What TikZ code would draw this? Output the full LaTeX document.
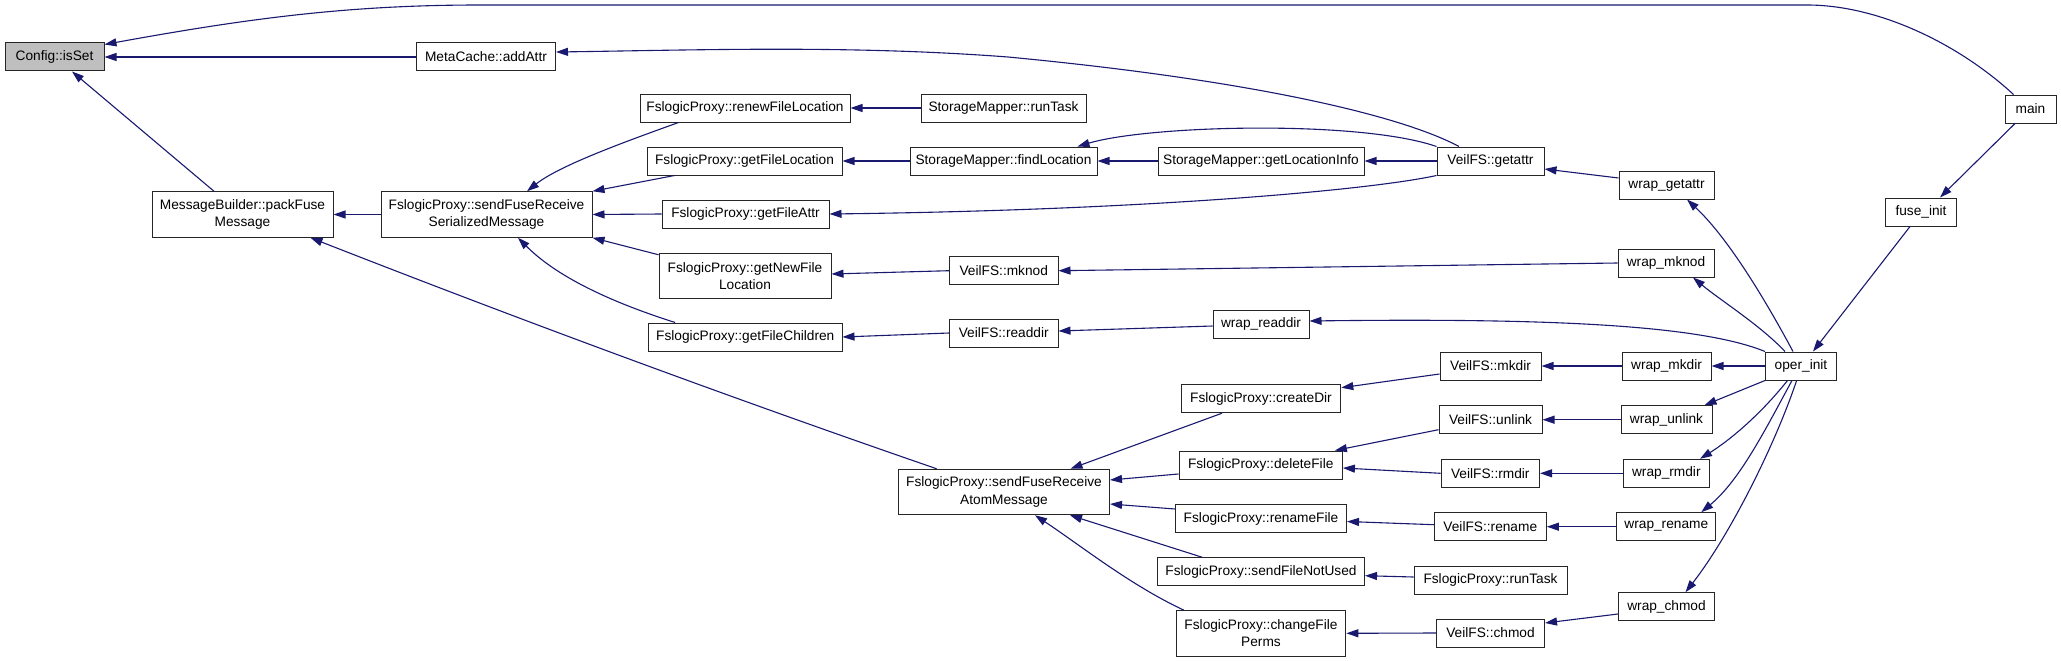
\documentclass[tikz,border=0pt]{standalone}
\usepackage{fontspec}
\setmainfont{Liberation Sans}
\usetikzlibrary{arrows.meta,calc}
\definecolor{edgec}{HTML}{191970}
\definecolor{hl}{HTML}{BFBFBF}
\definecolor{bord}{HTML}{262626}
\begin{document}
\begin{tikzpicture}[x=1pt,y=-1pt,
  box/.style={draw=bord,line width=1pt,fill=white,inner sep=0pt,minimum height=28pt,font=\fontsize{13.7}{17.5}\selectfont,align=center},
  two/.style={minimum height=45.5pt},
  call/.style={draw=edgec,line width=1.1pt,-{Triangle[length=12pt,width=8pt]}}]
\fill[white] (0,0) rectangle (2061,661);
\useasboundingbox (0,0) rectangle (2061,661);

\node[box,fill=hl,minimum width=99pt] (isset) at (54.5,57) {Config::isSet};
\node[box,minimum width=139pt] (addattr) at (486,57) {MetaCache::addAttr};
\node[box,two,minimum width=181pt] (packfuse) at (242.5,214.5) {MessageBuilder::packFuse\\Message};
\node[box,two,minimum width=211pt] (serial) at (486.5,214.5) {FslogicProxy::sendFuseReceive\\SerializedMessage};
\node[box,minimum width=210pt] (renew) at (745,108) {FslogicProxy::renewFileLocation};
\node[box,minimum width=165pt] (smrun) at (1003.5,108) {StorageMapper::runTask};
\node[box,minimum width=195pt] (getloc) at (744.5,161) {FslogicProxy::getFileLocation};
\node[box,minimum width=187pt] (findloc) at (1003.5,161) {StorageMapper::findLocation};
\node[box,minimum width=206pt] (locinfo) at (1261,161) {StorageMapper::getLocationInfo};
\node[box,minimum width=107pt] (getattr) at (1490.5,161) {VeilFS::getattr};
\node[box,minimum width=95pt] (wgetattr) at (1666.5,185) {wrap\_getattr};
\node[box,minimum width=51pt] (main) at (2030.5,109) {main};
\node[box,minimum width=70.5pt] (fuseinit) at (1921,212) {fuse\_init};
\node[box,minimum width=71pt] (operinit) at (1801,366) {oper\_init};
\node[box,minimum width=167pt] (getattrfp) at (745.5,214) {FslogicProxy::getFileAttr};
\node[box,two,minimum width=172pt] (newfile) at (745,276) {FslogicProxy::getNewFile\\Location};
\node[box,minimum width=108.5pt] (mknod) at (1003.75,270.7) {VeilFS::mknod};
\node[box,minimum width=96pt] (wmknod) at (1666,263) {wrap\_mknod};
\node[box,minimum width=193.4pt] (children) at (745.3,337) {FslogicProxy::getFileChildren};
\node[box,minimum width=108.5pt] (readdir) at (1003.75,333) {VeilFS::readdir};
\node[box,minimum width=96pt] (wreaddir) at (1261,324) {wrap\_readdir};
\node[box,two,minimum width=211pt] (atom) at (1004,492) {FslogicProxy::sendFuseReceive\\AtomMessage};
\node[box,minimum width=159.6pt] (createdir) at (1261,398.7) {FslogicProxy::createDir};
\node[box,minimum width=163.4pt] (deletefile) at (1260.7,465) {FslogicProxy::deleteFile};
\node[box,minimum width=171pt] (renamefile) at (1261,518.5) {FslogicProxy::renameFile};
\node[box,minimum width=207pt] (notused) at (1261,571.7) {FslogicProxy::sendFileNotUsed};
\node[box,two,minimum width=169.7pt] (perms) at (1261,633.3) {FslogicProxy::changeFile\\Perms};
\node[box,minimum width=101pt] (mkdir) at (1490.5,366) {VeilFS::mkdir};
\node[box,minimum width=89pt] (wmkdir) at (1666.5,366) {wrap\_mkdir};
\node[box,minimum width=103pt] (unlink) at (1490.5,419.7) {VeilFS::unlink};
\node[box,minimum width=91pt] (wunlink) at (1666.5,419.7) {wrap\_unlink};
\node[box,minimum width=98.5pt] (rmdir) at (1490.3,473.3) {VeilFS::rmdir};
\node[box,minimum width=86.5pt] (wrmdir) at (1666.3,473.3) {wrap\_rmdir};
\node[box,minimum width=112pt] (rename) at (1490.3,526.7) {VeilFS::rename};
\node[box,minimum width=99.3pt] (wrename) at (1666.3,526.7) {wrap\_rename};
\node[box,minimum width=153pt] (fprun) at (1490.5,580) {FslogicProxy::runTask};
\node[box,minimum width=96pt] (wchmod) at (1666.5,606.7) {wrap\_chmod};
\node[box,minimum width=108pt] (chmod) at (1490.5,633) {VeilFS::chmod};

\draw[call] ($(main.north)+(-17,0)$) .. controls (1960,45) and (1880,5) .. (1807,5) -- (480,5) .. controls (350,5) and (250,18) .. ($(isset.north east)+(0,2)$);
\draw[call] (addattr.west) -- (isset.east);
\draw[call] ($(packfuse.north)+(-28.5,0)$) -- ($(isset.south)+(17.5,0)$);
\draw[call] (serial.west) -- (packfuse.east);
\draw[call] ($(atom.north)+(-67.4,0)$) .. controls (727.7,396.7) and (518.8,319.3) .. ($(packfuse.south east)+(-23,0)$);
\draw[call] ($(getattr.north)+(-31.5,0)$) .. controls (1400,115) and (1250,80) .. (1008,57) .. controls (850,45) and (700,50) .. ($(addattr.east)+(0,-5)$);
\draw[call] ($(renew.south west)+(39,0)$) .. controls (630,140) and (560,165) .. ($(serial.north)+(40.5,0)$);
\draw[call] ($(getloc.south west)+(28,0)$) -- (serial.north east);
\draw[call] (getattrfp.west) -- (serial.east);
\draw[call] ($(newfile.north west)+(0,2)$) -- (serial.south east);
\draw[call] ($(children.north west)+(27,0)$) .. controls (620,305) and (560,280) .. ($(serial.south)+(31.5,0)$);
\draw[call] (smrun.west) -- (renew.east);
\draw[call] (findloc.west) -- (getloc.east);
\draw[call] (locinfo.west) -- (findloc.east);
\draw[call] (getattr.west) -- (locinfo.east);
\draw[call] (getattr.north west) .. controls (1360,120) and (1150,125) .. ($(findloc.north east)+(-20,0)$);
\draw[call] (getattr.south west) .. controls (1370,190) and (1150,210) .. (getattrfp.east);
\draw[call] ($(wgetattr.west)+(0,-7)$) -- ($(getattr.east)+(0,8)$);
\draw[call] ($(operinit.north)+(-8,0)$) .. controls (1760,290) and (1725,235) .. ($(wgetattr.south)+(20.5,0)$);
\draw[call] (mknod.west) -- ($(newfile.east)+(0,-2)$);
\draw[call] (wmknod.west) -- (mknod.east);
\draw[call] ($(operinit.north)+(-16,0)$) .. controls (1760,325) and (1720,300) .. ($(wmknod.south)+(27,0)$);
\draw[call] (readdir.west) -- (children.east);
\draw[call] ($(wreaddir.west)+(0,2)$) -- ($(readdir.east)+(0,-2)$);
\draw[call] (operinit.north west) .. controls (1700,325) and (1550,318) .. ($(wreaddir.east)+(0,-3)$);
\draw[call] ($(mkdir.west)+(0,8)$) -- ($(createdir.east)+(0,-11)$);
\draw[call] (wmkdir.west) -- (mkdir.east);
\draw[call] (operinit.west) -- (wmkdir.east);
\draw[call] ($(createdir.south)+(-39,0)$) -- ($(atom.north)+(66.5,0)$);
\draw[call] ($(deletefile.west)+(0,9)$) -- ($(atom.east)+(0,-12)$);
\draw[call] ($(renamefile.west)+(0,-9.5)$) -- ($(atom.east)+(0,12)$);
\draw[call] ($(notused.north)+(-59,0)$) -- ($(atom.south)+(66,0)$);
\draw[call] ($(perms.north west)+(8,0)$) .. controls (1130,585) and (1080,545) .. ($(atom.south)+(31,0)$);
\draw[call] ($(unlink.west)+(0,10)$) -- ($(deletefile.north east)+(-8,0)$);
\draw[call] (rmdir.west) -- ($(deletefile.east)+(0,3)$);
\draw[call] (wunlink.west) -- (unlink.east);
\draw[call] (operinit.south west) -- ($(wunlink.north east)+(-8,0)$);
\draw[call] (wrmdir.west) -- (rmdir.east);
\draw[call] ($(operinit.south)+(-13.5,0)$) .. controls (1760,415) and (1730,440) .. ($(wrmdir.north east)+(-10,0)$);
\draw[call] ($(rename.west)+(0,-2)$) -- ($(renamefile.east)+(0,3)$);
\draw[call] (wrename.west) -- (rename.east);
\draw[call] ($(operinit.south)+(-9,0)$) .. controls (1765,430) and (1740,480) .. ($(wrename.north)+(35,0)$);
\draw[call] ($(fprun.west)+(0,-3)$) -- ($(notused.east)+(0,4)$);
\draw[call] (chmod.west) -- (perms.east);
\draw[call] ($(wchmod.west)+(0,7.3)$) -- ($(chmod.east)+(0,-10)$);
\draw[call] ($(operinit.south)+(-4.4,0)$) .. controls (1775,445) and (1730,535) .. ($(wchmod.north)+(19,0)$);
\draw[call] ($(fuseinit.south)+(-11,0)$) -- ($(operinit.north)+(12,0)$);
\draw[call] ($(main.south)+(-15.5,0)$) -- ($(fuseinit.north)+(19,0)$);
\end{tikzpicture}
\end{document}
